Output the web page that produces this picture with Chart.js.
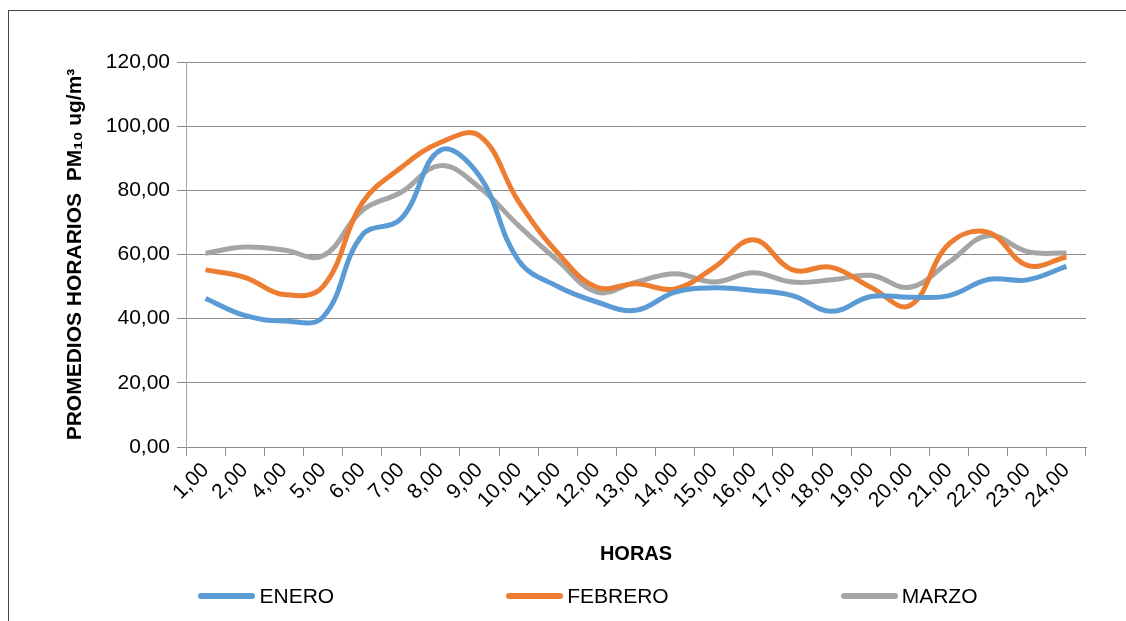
<!DOCTYPE html>
<html>
<head>
<meta charset="utf-8">
<script src="https://cdn.jsdelivr.net/npm/chart.js@4"></script>
<style>
  body { margin: 0; background: #fff; font-family: "Liberation Sans", Arial, sans-serif; }
  #wrap { position: relative; width: 1126px; height: 621px; overflow: hidden; }
  #frame { position: absolute; left: 8px; top: 10px; width: 1200px; height: 700px;
           border-left: 1px solid #444; border-top: 1px solid #444; }
  canvas { position: absolute; left: 0; top: 0; }
  #legend { position: absolute; left: 0; top: 584px; width: 1176px; display: flex;
            justify-content: center; gap: 172px; font-size: 21px; color: #000; }
  .item { display: flex; align-items: center; }
  .swatch { width: 57px; height: 6px; border-radius: 3px; margin-right: 4px; }
</style>
</head>
<body>
<div id="wrap">
  <div id="frame"></div>
  <canvas id="pmChart" width="1126" height="621"></canvas>
  <div id="legend"></div>
</div>
<script>
// Promedios horarios PM10 por mes
const horas = ['1,00', '2,00', '4,00', '5,00', '6,00', '7,00', '8,00', '9,00', '10,00', '11,00', '12,00',
  '13,00', '14,00', '15,00', '16,00', '17,00', '18,00', '19,00', '20,00', '21,00', '22,00', '23,00', '24,00'];
const enero = [46.3, 41.0, 39.3, 40.5, 66.0, 71.2, 92.5, 84.5, 58.1, 50.0, 45.2, 42.6, 48.3, 49.6, 48.8, 47.2,
  42.3, 46.9, 46.7, 47.2, 52.2, 52.1, 56.3];
const febrero = [55.2, 52.9, 47.5, 50.0, 76.0, 87.1, 94.9, 97.0, 76.5, 60.5, 49.8, 50.9, 49.3, 56.0, 64.6, 55.2,
  56.0, 49.8, 44.1, 63.3, 66.9, 56.6, 59.2];
const marzo = [60.4, 62.3, 61.4, 59.6, 73.7, 79.4, 87.7, 80.9, 69.0, 58.1, 48.3, 51.4, 54.0, 51.4, 54.3, 51.4,
  52.1, 53.5, 49.8, 57.6, 65.9, 60.9, 60.4];
const yTicks = [0, 20, 40, 60, 80, 100, 120];

const FONT = 'Liberation Sans, Arial, sans-serif';
const gridColor = '#8c8c8c';

function serie(label, data, color) {
  return {
    label: label,
    data: data,
    borderColor: color,
    backgroundColor: color,
    borderWidth: 5,
    pointRadius: 0,
    tension: 0.4,
    fill: false
  };
}

const ctx = document.getElementById('pmChart').getContext('2d');
const chart = new Chart(ctx, {
  type: 'line',
  data: {
    labels: horas,
    datasets: [
      serie('ENERO', enero, '#5B9BD5'),
      serie('FEBRERO', febrero, '#ED7D31'),
      serie('MARZO', marzo, '#A5A5A5')
    ]
  },
  options: {
    responsive: false,
    animation: false,
    layout: { padding: { left: 63, top: 62, right: 40, bottom: 55 } },
    plugins: {
      legend: { display: false },
      tooltip: { enabled: false }
    },
    scales: {
      x: {
        offset: true,
        grid: { offset: true, drawOnChartArea: false, color: gridColor, tickLength: 9 },
        border: { color: gridColor },
        ticks: {
          color: '#000', font: { family: FONT, size: 21 },
          minRotation: 45, maxRotation: 45, autoSkip: false, padding: 2
        },
        title: {
          display: true, text: 'HORAS', color: '#000',
          font: { family: FONT, size: 20, weight: 'bold' }, padding: 0
        },
        afterFit: scale => { scale.height = 119; }
      },
      y: {
        min: 0,
        max: 120,
        afterBuildTicks: scale => { scale.ticks = yTicks.map(v => ({ value: v })); },
        grid: { color: gridColor, tickLength: 9 },
        border: { color: '#a6a6a6' },
        ticks: {
          color: '#000', font: { family: FONT, size: 21 }, padding: 7,
          callback: v => v.toFixed(2).replace('.', ',')
        },
        title: {
          display: true, text: 'PROMEDIOS HORARIOS  PM\u2081\u2080 ug/m\u00B3', color: '#000',
          font: { family: FONT, size: 21, weight: 'bold' }, padding: 0
        },
        afterFit: scale => { scale.width = 123; }
      }
    }
  }
});

// leyenda en HTML generada desde los datasets
const legendEl = document.getElementById('legend');
chart.data.datasets.forEach(ds => {
  const item = document.createElement('div');
  item.className = 'item';
  const sw = document.createElement('span');
  sw.className = 'swatch';
  sw.style.background = ds.borderColor;
  const txt = document.createElement('span');
  txt.textContent = ds.label;
  item.appendChild(sw);
  item.appendChild(txt);
  legendEl.appendChild(item);
});
</script>
</body>
</html>
